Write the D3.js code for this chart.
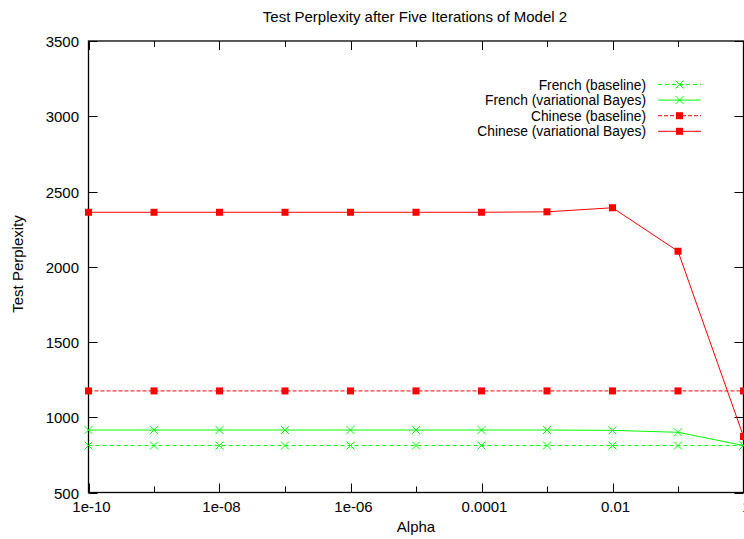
<!DOCTYPE html>
<html>
<head>
<meta charset="utf-8">
<script src="https://cdn.jsdelivr.net/npm/d3@7"></script>
<style>
  html, body { margin: 0; padding: 0; background: #fff; }
  svg { display: block; font-family: "Liberation Sans", Arial, Helvetica, sans-serif; }
</style>
</head>
<body>
<svg id="chart" width="744" height="539"></svg>
<script>
// Alpha values (log scale) and perplexity measurements
const alphas = [1e-10, 1e-9, 1e-8, 1e-7, 1e-6, 1e-5, 1e-4, 1e-3, 1e-2, 1e-1, 1];
const frenchBaseline = [812, 812, 812, 812, 812, 812, 812, 812, 812, 812, 812];
const frenchVB       = [915, 915, 915, 915, 915, 915, 915, 915, 913, 900, 812];
const chineseBaseline= [1175, 1175, 1175, 1175, 1175, 1175, 1175, 1175, 1175, 1175, 1175];
const chineseVB      = [2362, 2362, 2362, 2362, 2362, 2362, 2362, 2365, 2392, 2103, 872];

const xTicks = [1e-10, 1e-9, 1e-8, 1e-7, 1e-6, 1e-5, 1e-4, 1e-3, 1e-2, 1e-1, 1];
const xTickLabels = { 1e-10: "1e-10", 1e-8: "1e-08", 1e-6: "1e-06", 1e-4: "0.0001", 1e-2: "0.01", 1: "1" };
const yTicks = [500, 1000, 1500, 2000, 2500, 3000, 3500];

const series = [
  { name: "French (baseline)", values: frenchBaseline, color: "#00ff00", dash: "4,3", marker: "x" },
  { name: "French (variational Bayes)", values: frenchVB, color: "#00ff00", dash: null, marker: "x" },
  { name: "Chinese (baseline)", values: chineseBaseline, color: "#ff0000", dash: "4,2", marker: "sq" },
  { name: "Chinese (variational Bayes)", values: chineseVB, color: "#ff0000", dash: null, marker: "sq" }
];

const FONT = 15;
const LEGEND_FONT = 13.8;
const svg = d3.select("#chart");
const plotLeft = 88.5, plotRight = 743.5, plotTop = 41, plotBottom = 492.5;

const x = d3.scaleLog().domain([1e-10, 1]).range([plotLeft, plotRight]);
const y = d3.scaleLinear().domain([500, 3500]).range([plotBottom, plotTop]);

// Title
svg.append("text").attr("x", 415).attr("y", 22).attr("text-anchor", "middle")
  .attr("font-size", FONT).text("Test Perplexity after Five Iterations of Model 2");

// Tick marks (inward, mirrored on all sides)
const tickG = svg.append("g").attr("stroke", "#000").attr("stroke-width", 1);
xTicks.forEach(t => {
  const px = Math.round(x(t)) + 0.5;
  const len = xTickLabels[t] !== undefined ? 9 : 6;
  tickG.append("line").attr("x1", px).attr("x2", px).attr("y1", plotBottom).attr("y2", plotBottom - len);
  tickG.append("line").attr("x1", px).attr("x2", px).attr("y1", plotTop).attr("y2", plotTop + len);
  if (xTickLabels[t] !== undefined) {
    svg.append("text").attr("x", px + 2).attr("y", plotBottom + 19.5).attr("text-anchor", "middle")
      .attr("font-size", FONT).text(xTickLabels[t]);
  }
});
yTicks.forEach(t => {
  const py = Math.round(y(t)) + 0.5;
  tickG.append("line").attr("x1", plotLeft).attr("x2", plotLeft + 9).attr("y1", py).attr("y2", py);
  tickG.append("line").attr("x1", plotRight).attr("x2", plotRight - 9).attr("y1", py).attr("y2", py);
  svg.append("text").attr("x", plotLeft - 9.5).attr("y", py + 5).attr("text-anchor", "end")
    .attr("font-size", FONT).text(t);
});

// Axis titles
svg.append("text").attr("x", 416).attr("y", 532).attr("text-anchor", "middle")
  .attr("font-size", FONT).text("Alpha");
svg.append("text").attr("transform", "translate(23,264) rotate(-90)").attr("text-anchor", "middle")
  .attr("font-size", FONT).text("Test Perplexity");

// Plot border
svg.append("rect").attr("x", plotLeft).attr("y", plotTop).attr("width", plotRight - plotLeft).attr("height", plotBottom - plotTop)
  .attr("fill", "none").attr("stroke", "#000").attr("stroke-width", 1.3);

// Series
const line = d3.line().x((d, i) => x(alphas[i])).y(d => y(d));

function drawMarker(g, type, cx, cy, color) {
  if (type === "x") {
    g.append("path").attr("d", `M${cx-4},${cy-4}L${cx+4},${cy+4}M${cx-4},${cy+4}L${cx+4},${cy-4}`)
      .attr("stroke", color).attr("stroke-width", 1).attr("fill", "none");
  } else {
    g.append("rect").attr("x", cx - 3.5).attr("y", cy - 3.5).attr("width", 7).attr("height", 7)
      .attr("fill", color);
  }
}

const plot = svg.append("g");
series.forEach(s => {
  plot.append("path").datum(s.values).attr("d", line)
    .attr("fill", "none").attr("stroke", s.color).attr("stroke-width", 1)
    .attr("stroke-dasharray", s.dash);
  s.values.forEach((v, i) => drawMarker(plot, s.marker, x(alphas[i]), y(v), s.color));
});

// Legend
const legendX = 646, sampleX1 = 658, sampleX2 = 701, legendY0 = 84.5, legendDy = 15.6;
series.forEach((s, i) => {
  const ly = legendY0 + i * legendDy;
  svg.append("text").attr("x", legendX).attr("y", ly + 5).attr("text-anchor", "end")
    .attr("font-size", LEGEND_FONT).text(s.name);
  svg.append("line").attr("x1", sampleX1).attr("x2", sampleX2).attr("y1", ly).attr("y2", ly)
    .attr("stroke", s.color).attr("stroke-width", 1).attr("stroke-dasharray", s.dash);
  drawMarker(svg, s.marker, (sampleX1 + sampleX2) / 2, ly, s.color);
});
</script>
</body>
</html>
